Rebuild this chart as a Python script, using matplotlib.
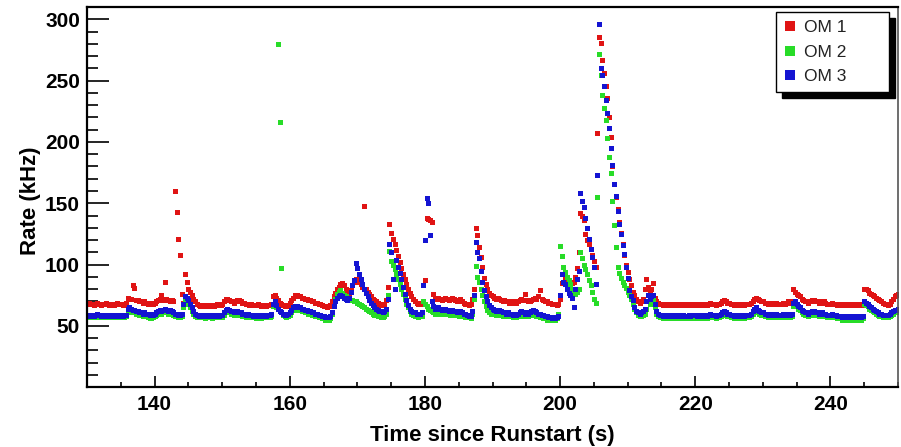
import numpy as np
import matplotlib
matplotlib.use("Agg")
import matplotlib.pyplot as plt
from matplotlib.ticker import MultipleLocator
from matplotlib.lines import Line2D

# sampling of the rate readout
t_start = 130.0
t_step = 0.25

# OM 1 rate (kHz), 20 samples (5 s) per row
om1 = [
    68, 69, 68, 68, 67, 68, 69, 68, 67, 68, 68, 69, 68, 67, 68, 68, 67, 68, 69, 68,
    68, 67, 68, 69, 73, 72, 72, 83, 81, 71, 71, 70, 70, 69, 70, 69, 68, 69, 68, 68,
    69, 70, 71, 72, 75, 71, 86, 72, 71, 70, 71, 70, 160, 143, 121, 108, 76, 69, 92, 86,
    80, 78, 75, 72, 70, 68, 67, 66, 67, 66, 67, 67, 66, 67, 67, 66, 67, 68, 67, 67,
    68, 70, 72, 72, 71, 70, 70, 69, 70, 71, 71, 70, 69, 69, 68, 68, 67, 68, 67, 67,
    67, 68, 67, 66, 67, 67, 66, 67, 67, 68, 74, 75, 73, 71, 69, 68, 67, 66, 66, 67,
    69, 71, 73, 75, 75, 74, 74, 73, 73, 72, 72, 71, 71, 70, 70, 69, 69, 68, 68, 67,
    66, 66, 65, 66, 67, 70, 74, 77, 80, 82, 84, 85, 83, 80, 78, 77, 79, 83, 86, 88,
    88, 86, 84, 82, 148, 80, 78, 76, 74, 72, 71, 70, 69, 68, 67, 67, 68, 71, 82, 133,
    126, 121, 117, 112, 107, 102, 97, 92, 88, 84, 80, 77, 74, 72, 70, 69, 68, 68, 69, 83,
    87, 138, 137, 136, 135, 76, 73, 72, 73, 72, 71, 72, 73, 72, 71, 72, 73, 72, 71, 70,
    71, 72, 70, 69, 68, 68, 67, 68, 72, 80, 130, 124, 114, 106, 98, 89, 84, 80, 77, 75,
    74, 73, 72, 73, 72, 71, 70, 71, 70, 70, 69, 70, 69, 70, 69, 70, 71, 72, 71, 76,
    71, 70, 70, 71, 72, 73, 72, 74, 79, 72, 71, 70, 70, 69, 69, 68, 68, 68, 67, 68,
    72, 85, 98, 89, 86, 84, 82, 85, 86, 90, 97, 110, 142, 140, 136, 125, 120, 117, 113, 108,
    103, 98, 207, 286, 281, 267, 256, 246, 236, 220, 204, 180, 166, 155, 145, 135, 126, 117, 108, 100,
    94, 88, 83, 78, 75, 72, 70, 69, 70, 72, 80, 88, 82, 78, 80, 85, 73, 70, 69, 68,
    68, 67, 68, 68, 67, 68, 67, 68, 68, 67, 68, 68, 67, 67, 68, 67, 68, 68, 67, 68,
    68, 67, 68, 68, 67, 68, 68, 67, 68, 69, 68, 68, 67, 68, 68, 69, 70, 71, 70, 69,
    69, 68, 68, 67, 68, 68, 67, 68, 68, 67, 68, 68, 68, 69, 70, 72, 73, 72, 71, 70,
    70, 69, 69, 68, 68, 69, 68, 68, 69, 68, 68, 68, 69, 68, 69, 70, 69, 70, 80, 78,
    76, 75, 74, 72, 71, 70, 70, 69, 70, 71, 71, 70, 70, 69, 69, 70, 70, 69, 68, 68,
    68, 69, 68, 68, 67, 68, 68, 67, 67, 68, 67, 68, 67, 67, 68, 67, 67, 68, 67, 68,
    80, 80, 79, 77, 76, 75, 74, 73, 72, 71, 70, 69, 68, 68, 67, 68, 70, 72, 74, 75,
    76,
]

# OM 2 rate (kHz)
om2 = [
    57, 57, 58, 57, 57, 57, 58, 57, 57, 57, 57, 57, 58, 57, 57, 57, 57, 58, 57, 57,
    57, 57, 57, 58, 61, 62, 62, 61, 61, 60, 60, 59, 59, 58, 59, 58, 57, 56, 56, 57,
    58, 59, 60, 61, 60, 61, 62, 61, 60, 61, 60, 59, 58, 58, 57, 57, 58, 65, 71, 70,
    68, 65, 62, 60, 58, 57, 57, 57, 57, 57, 56, 57, 57, 57, 56, 57, 57, 57, 57, 57,
    57, 59, 61, 62, 61, 60, 60, 59, 60, 60, 59, 59, 58, 58, 57, 58, 57, 57, 57, 57,
    56, 57, 57, 56, 57, 57, 57, 57, 57, 58, 66, 68, 65, 280, 216, 97, 59, 58, 57, 58,
    59, 61, 63, 64, 64, 63, 63, 62, 62, 61, 61, 60, 60, 59, 59, 58, 58, 57, 57, 56,
    56, 55, 55, 55, 56, 60, 66, 72, 76, 78, 79, 77, 75, 74, 73, 72, 71, 71, 70, 70,
    69, 68, 67, 66, 65, 64, 63, 62, 61, 60, 59, 59, 58, 58, 57, 57, 58, 60, 75, 111,
    103, 100, 96, 92, 88, 84, 80, 76, 72, 68, 65, 62, 60, 59, 58, 58, 57, 58, 58, 70,
    68, 66, 64, 63, 62, 61, 60, 60, 61, 61, 60, 60, 61, 60, 60, 59, 60, 60, 59, 59,
    58, 59, 58, 58, 57, 57, 57, 56, 60, 72, 99, 90, 86, 80, 75, 70, 66, 63, 61, 60,
    60, 60, 59, 59, 60, 59, 58, 59, 58, 58, 58, 58, 57, 58, 57, 58, 58, 59, 58, 58,
    58, 58, 59, 59, 60, 59, 58, 58, 57, 57, 56, 56, 55, 56, 55, 55, 56, 55, 56, 60,
    115, 107, 98, 94, 90, 87, 84, 80, 78, 76, 78, 80, 110, 105, 100, 96, 92, 87, 83, 78,
    72, 69, 155, 272, 255, 238, 228, 218, 203, 188, 175, 152, 132, 114, 98, 93, 89, 86, 83, 81,
    78, 75, 72, 68, 64, 61, 59, 58, 58, 59, 60, 64, 70, 68, 70, 72, 65, 60, 58, 57,
    57, 56, 57, 57, 56, 57, 56, 57, 57, 56, 57, 57, 56, 57, 57, 56, 57, 57, 56, 57,
    57, 56, 57, 57, 56, 57, 57, 56, 57, 58, 57, 57, 56, 57, 57, 58, 59, 60, 59, 58,
    58, 57, 57, 56, 57, 57, 56, 57, 57, 56, 57, 57, 57, 58, 60, 62, 63, 61, 60, 59,
    59, 58, 58, 57, 57, 58, 57, 57, 58, 57, 57, 57, 58, 57, 57, 58, 57, 58, 66, 68,
    66, 64, 63, 61, 60, 59, 59, 58, 59, 60, 60, 59, 59, 58, 58, 59, 58, 58, 57, 57,
    57, 58, 57, 57, 56, 56, 56, 55, 55, 56, 55, 56, 55, 55, 56, 55, 55, 56, 55, 56,
    68, 67, 66, 64, 63, 62, 61, 60, 59, 58, 58, 57, 57, 57, 57, 58, 59, 60, 61, 61,
    62,
]

# OM 3 rate (kHz)
om3 = [
    59, 58, 59, 59, 58, 59, 60, 59, 58, 59, 59, 58, 59, 59, 58, 59, 58, 59, 59, 58,
    59, 58, 59, 59, 64, 65, 64, 63, 63, 62, 62, 61, 61, 60, 61, 60, 60, 59, 60, 59,
    60, 61, 62, 63, 62, 63, 64, 63, 62, 63, 62, 61, 60, 60, 59, 59, 60, 68, 74, 73,
    71, 68, 65, 62, 60, 59, 58, 58, 59, 58, 58, 59, 58, 58, 59, 58, 58, 59, 58, 59,
    59, 61, 63, 64, 63, 62, 62, 61, 62, 62, 61, 61, 60, 60, 59, 60, 59, 59, 58, 59,
    58, 59, 58, 58, 59, 58, 58, 59, 59, 60, 68, 70, 67, 64, 62, 61, 60, 59, 59, 60,
    61, 63, 65, 66, 66, 65, 65, 64, 64, 63, 63, 62, 62, 61, 61, 60, 60, 59, 59, 58,
    58, 57, 57, 57, 58, 61, 66, 70, 73, 74, 75, 74, 73, 72, 71, 73, 78, 83, 87, 101,
    97, 92, 88, 84, 80, 77, 74, 71, 69, 67, 65, 64, 63, 62, 62, 61, 62, 64, 72, 117,
    110, 88, 80, 104, 98, 93, 88, 82, 76, 71, 67, 64, 62, 61, 61, 60, 60, 60, 61, 83,
    120, 154, 150, 124, 70, 66, 64, 64, 65, 64, 63, 64, 64, 63, 62, 63, 63, 62, 62, 61,
    61, 62, 61, 60, 60, 59, 58, 58, 62, 75, 118, 110, 105, 95, 86, 79, 74, 70, 67, 65,
    64, 63, 62, 62, 63, 62, 61, 61, 60, 61, 60, 60, 59, 60, 59, 60, 61, 62, 61, 60,
    61, 60, 61, 62, 63, 62, 61, 60, 60, 59, 59, 58, 58, 57, 57, 56, 57, 56, 57, 58,
    75, 92, 86, 84, 80, 77, 75, 73, 65, 80, 88, 95, 158, 152, 147, 138, 130, 121, 113, 106,
    98, 84, 173, 296, 260, 255, 246, 234, 224, 211, 195, 181, 166, 156, 144, 133, 125, 116, 109, 98,
    89, 79, 74, 71, 65, 62, 61, 60, 61, 62, 64, 70, 75, 72, 74, 75, 68, 62, 60, 59,
    59, 58, 59, 58, 58, 59, 58, 58, 59, 58, 59, 58, 58, 59, 58, 58, 59, 58, 59, 59,
    59, 58, 59, 59, 58, 59, 59, 58, 59, 60, 59, 59, 58, 59, 59, 60, 61, 62, 61, 60,
    60, 59, 59, 58, 59, 59, 58, 59, 59, 58, 59, 59, 59, 60, 62, 64, 65, 63, 62, 61,
    61, 60, 60, 59, 59, 60, 59, 59, 60, 59, 59, 59, 60, 59, 59, 60, 59, 60, 69, 70,
    68, 66, 65, 63, 62, 61, 61, 60, 61, 62, 62, 61, 61, 60, 60, 61, 60, 60, 59, 59,
    59, 60, 59, 59, 58, 58, 58, 57, 57, 58, 57, 58, 57, 57, 58, 57, 57, 58, 57, 58,
    70, 69, 68, 66, 65, 64, 63, 62, 61, 60, 60, 59, 59, 59, 59, 60, 61, 62, 63, 63,
    64,
]

labels = ["OM 1", "OM 2", "OM 3"]
colors = ["#e01414", "#28dc28", "#1414d2"]

plt.rcParams['font.family'] = ['Liberation Sans', 'DejaVu Sans']

fig = plt.figure(figsize=(9.01, 4.47), dpi=100)
ax = fig.add_axes([0.0966, 0.134, 0.9001, 0.850])

for series, col in zip([om1, om2, om3], colors):
    t = t_start + t_step * np.arange(len(series))
    ax.plot(t, series, linestyle='none', marker='s', markersize=3.6,
            markeredgewidth=0, color=col)

ax.set_xlim(130, 250)
ax.set_ylim(0, 310)

ax.xaxis.set_major_locator(MultipleLocator(20))
ax.xaxis.set_minor_locator(MultipleLocator(5))
ax.yaxis.set_major_locator(MultipleLocator(50))
ax.yaxis.set_minor_locator(MultipleLocator(10))

ax.tick_params(axis='both', which='both', direction='in', top=False, right=False,
               width=1.2, labelsize=15)
ax.tick_params(axis='y', which='major', length=16, pad=5)
ax.tick_params(axis='y', which='minor', length=8)
ax.tick_params(axis='x', which='major', length=8, pad=6)
ax.tick_params(axis='x', which='minor', length=3.5)
for lab in ax.get_xticklabels() + ax.get_yticklabels():
    lab.set_fontweight('bold')
ax.set_yticks([50, 100, 150, 200, 250, 300])

for side in ['left', 'bottom', 'top']:
    ax.spines[side].set_linewidth(1.6)
ax.spines['right'].set_linewidth(1.2)
ax.spines['right'].set_color('#555555')

ax.set_xlabel("Time since Runstart (s)", fontsize=16, fontweight='bold')
ax.set_ylabel("Rate (kHz)", fontsize=16, fontweight='bold')
ax.xaxis.set_label_coords(0.5, -0.10)
ax.yaxis.set_label_coords(-0.057, 0.49)

# ROOT-style legend box: wide frame with a solid black drop shadow
handles = [Line2D([], [], linestyle='none', marker='s', markersize=7.5,
                  markeredgewidth=0, color=c) for c in colors]
leg = ax.legend(handles, labels, loc='upper left', mode='expand',
                bbox_to_anchor=(0.850, 0.776, 0.139, 0.211),
                fontsize=12.5, frameon=True, fancybox=False, handlelength=0.7,
                handletextpad=0.45, borderpad=0.45, borderaxespad=0,
                labelspacing=0.55,
                shadow={'color': 'black', 'alpha': 1, 'ox': 4, 'oy': -4})
leg.get_frame().set_edgecolor('black')
leg.get_frame().set_linewidth(1.0)
for txt in leg.get_texts():
    txt.set_color('#222222')

fig.savefig("out.png", dpi=100)
